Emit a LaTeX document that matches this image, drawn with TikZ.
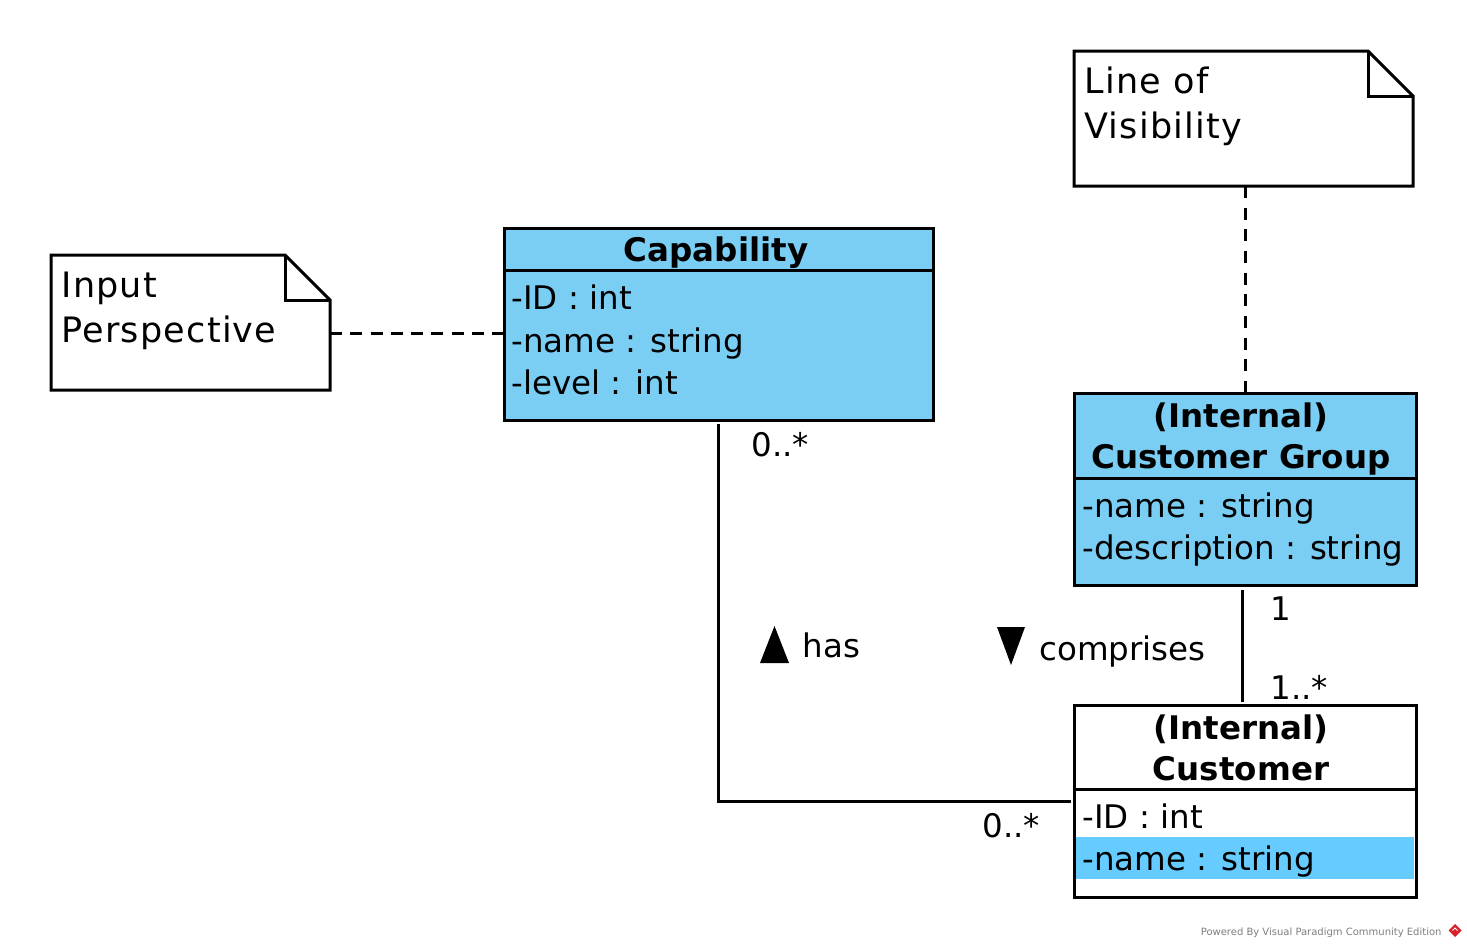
\documentclass[tikz,border=0pt]{standalone}
\usepackage{fontspec}
\setmainfont{DejaVu Sans}
\newfontfamily\notefamily[LetterSpace=3.5]{DejaVu Sans}
\usetikzlibrary{calc}
\definecolor{classblue}{HTML}{7ACEF4}
\definecolor{hlblue}{HTML}{66CCFF}
\definecolor{wmgrey}{HTML}{7F7F7F}
\definecolor{vpred}{HTML}{D8202A}
\newcommand{\clsfont}{\fontsize{32.5}{42}\selectfont}
\newcommand{\notefont}{\notefamily\fontsize{35}{45}\selectfont}
\begin{document}
\begin{tikzpicture}[x=1pt,y=-1pt,line width=3pt,
  box/.style={draw,inner sep=0,outer sep=0,anchor=north west},
  notebox/.style={inner sep=0,outer sep=0,anchor=north west},
  attr/.style={inner sep=0,anchor=base west,font=\clsfont},
  title/.style={inner sep=0,anchor=base,font=\clsfont\bfseries},
  notetext/.style={inner sep=0,anchor=base west,font=\notefont},
  lbl/.style={inner sep=0,anchor=base west,font=\clsfont},
  hdash/.style={dash pattern=on 12pt off 8.25pt},
  vdash/.style={dash pattern=on 12pt off 9.67pt},
  tri/.style={fill=black,draw=none}]
\useasboundingbox (0,0) rectangle (1467,948);
\fill[white] (0,0) rectangle (1467,948);

% ---- Input Perspective note
\node[notebox,minimum width=279pt,minimum height=135pt] (inp) at (51,255) {};
\draw[fill=white] (inp.north west) -- ($(inp.north east)+(-45,0)$) -- ($(inp.north east)+(0,45)$) -- (inp.south east) -- (inp.south west) -- cycle;
\draw ($(inp.north east)+(-45,0)$) -- ($(inp.north east)+(-45,45)$) -- ($(inp.north east)+(0,45)$);
\node[notetext] (inpA) at (60,297) {Input};
\node[notetext] (inpB) at (60,342) {Perspective};

% ---- Line of Visibility note
\node[notebox,minimum width=339pt,minimum height=135pt] (lov) at (1074,51) {};
\draw[fill=white] (lov.north west) -- ($(lov.north east)+(-45,0)$) -- ($(lov.north east)+(0,45)$) -- (lov.south east) -- (lov.south west) -- cycle;
\draw ($(lov.north east)+(-45,0)$) -- ($(lov.north east)+(-45,45)$) -- ($(lov.north east)+(0,45)$);
\node[notetext] (lovA) at (1083,93) {Line of};
\node[notetext] (lovB) at (1083,138) {Visibility};

% ---- Capability class
\node[box,fill=classblue,minimum width=429pt,minimum height=192pt] (cap) at (504,228) {};
\draw ($(cap.north west)+(0,42)$) -- ($(cap.north east)+(0,42)$);
\node[title] (capT) at (716,261) {Capability};
\node[attr] (capA1) at (510,309) {-ID : int};
\node[attr] (capA2) at (510,352) {-name : string};
\node[attr] (capA3) at (510,394) {-level : int};

% ---- Customer Group class
\node[box,fill=classblue,minimum width=342pt,minimum height=192pt] (grp) at (1074,393) {};
\draw ($(grp.north west)+(0,85)$) -- ($(grp.north east)+(0,85)$);
\node[title] (grpT1) at (1241,427) {(Internal)};
\node[title] (grpT2) at (1241,468) {Customer Group};
\node[attr] (grpA1) at (1081,517) {-name : string};
\node[attr] (grpA2) at (1081,559) {-description : string};

% ---- Customer class
\fill[hlblue] (1076,837) rectangle (1414,879);
\node[box,minimum width=342pt,minimum height=192pt] (cust) at (1074,705) {};
\draw ($(cust.north west)+(0,84)$) -- ($(cust.north east)+(0,84)$);
\node[title] (custT1) at (1241,739) {(Internal)};
\node[title] (custT2) at (1241,780) {Customer};
\node[attr] (custA1) at (1081,828) {-ID : int};
\node[attr] (custA2) at (1081,870) {-name : string};

% ---- connectors
\draw[hdash] ($(inp.north east)+(0,78)$) -- ($(cap.north west)+(0,105)$);
\draw[vdash] (grp.north |- lov.south) -- (grp.north);
\draw ($(grp.south)+(-3,5)$) -- ($(cust.north)+(-3,-3)$);
\draw ($(cap.south)+(0,4)$) |- ($(cust.west)+(-3,0)$);

% ---- labels
\node[lbl] (m1) at (750,456) {0..*};
\node[lbl] (m2) at (981,837) {0..*};
\node[lbl] (m3) at (1269,620) {1};
\node[lbl] (m4) at (1269,699) {1..*};
\fill[tri] (760,663) -- (789,663) -- (774.5,626) -- cycle;
\node[lbl] (has) at (801,657) {has};
\fill[tri] (997,627) -- (1025,627) -- (1011,665) -- cycle;
\node[lbl] (comp) at (1038,660) {comprises};

% ---- watermark
\node[inner sep=0,anchor=base east,text=wmgrey,font=\fontsize{10}{12}\selectfont] (wm) at (1443,935) {Powered By Visual Paradigm Community Edition};
\fill[vpred] (1455,924) -- (1461.5,930.5) -- (1455,937) -- (1448.5,930.5) -- cycle;
\draw[white,line width=1pt] (1452.5,930.5) -- (1455,928) -- (1457.5,930.5);
\end{tikzpicture}
\end{document}
